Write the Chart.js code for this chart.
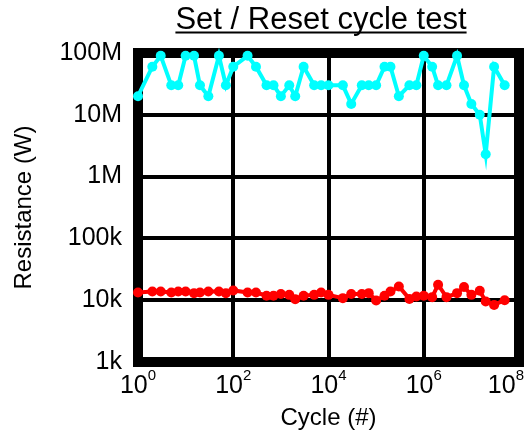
<!DOCTYPE html>
<html>
<head>
<meta charset="utf-8">
<title>Set / Reset cycle test</title>
<script src="https://cdn.jsdelivr.net/npm/chart.js@4.4.0/dist/chart.umd.min.js"></script>
<style>
  body { margin: 0; background: #fff; }
  canvas { display: block; }
</style>
</head>
<body>
<canvas id="chart" width="526" height="435"></canvas>
<script>
const FONT = '"Liberation Sans", Arial, sans-serif';
const chartTitle = "Set / Reset cycle test";

// cycle counts where both states were read back
const cycles = [1, 2, 3, 5, 7, 10, 15, 20, 30, 50, 70, 100, 200, 300, 500, 700,
  1e3, 1.5e3, 2e3, 3e3, 5e3, 7e3, 1e4, 2e4, 3e4, 5e4, 7e4,
  1e5, 1.5e5, 2e5, 3e5, 5e5, 7e5, 1e6, 1.5e6, 2e6, 3e6, 5e6, 7e6,
  1e7, 1.5e7, 2e7, 3e7, 5e7];

// reset (high resistance) state, ohms
const highRes = [2e7, 6e7, 9e7, 3e7, 3e7, 9e7, 9e7, 3e7, 2e7, 9e7, 3e7, 6e7, 9e7, 6e7, 3e7, 3e7,
  2e7, 3e7, 2e7, 6e7, 3e7, 3e7, 3e7, 3e7, 1.5e7, 3e7, 3e7,
  3e7, 6e7, 6e7, 2e7, 3e7, 3e7, 9e7, 6e7, 3e7, 3e7, 9e7, 3e7,
  1.5e7, 1e7, 2.3e6, 6e7, 3e7];

// set (low resistance) state, ohms
const lowRes = [13300, 13800, 13800, 13300, 13800, 13800, 13000, 13300, 13800, 13800, 13000, 14400, 13300, 13300, 11800, 11800,
  12600, 12200, 10400, 11800, 12200, 13300, 12200, 10800, 12600, 12600, 13000,
  9900, 11800, 13800, 16700, 10500, 11500, 11800, 11200, 17800, 11200, 13000, 16300,
  12200, 14200, 9500, 8400, 10000];

const yTicks = [1e3, 1e4, 1e5, 1e6, 1e7, 1e8];
const yTickLabels = ["1k", "10k", "100k", "1M", "10M", "100M"];
const xTicks = [1, 1e2, 1e4, 1e6, 1e8];
const xTickExps = ["0", "2", "4", "6", "8"];

// thick frame, underlined title and 10^n labels
const framePlugin = {
  id: "frame",
  beforeDatasetsDraw(chart) {
    const { ctx, chartArea: a } = chart;
    ctx.save();
    ctx.strokeStyle = "#000";
    ctx.lineWidth = 10;
    ctx.strokeRect(a.left, a.top, a.right - a.left, a.bottom - a.top);
    ctx.restore();
  },
  afterDraw(chart) {
    const { ctx } = chart;
    const xs = chart.scales.x;
    ctx.save();
    ctx.fillStyle = "#000";
    ctx.textBaseline = "alphabetic";
    ctx.textAlign = "left";
    xTicks.forEach((v, i) => {
      ctx.font = `25px ${FONT}`;
      const baseW = ctx.measureText("10").width;
      ctx.font = `15px ${FONT}`;
      const supW = ctx.measureText(xTickExps[i]).width;
      const w = baseW + supW;
      let left = xs.getPixelForValue(v) - w / 2;
      left = Math.min(left, chart.width - w - 2);
      ctx.font = `25px ${FONT}`;
      ctx.fillText("10", left, 393);
      ctx.font = `15px ${FONT}`;
      ctx.fillText(xTickExps[i], left + baseW, 380);
    });

    ctx.font = `31px ${FONT}`;
    ctx.textAlign = "center";
    ctx.fillText(chartTitle, 321, 29);
    const tw = ctx.measureText(chartTitle).width;
    ctx.fillRect(321 - tw / 2, 31.5, tw, 2);
    ctx.restore();
  }
};

new Chart(document.getElementById("chart"), {
  type: "line",
  data: {
    datasets: [
      {
        label: "Reset",
        data: cycles.map((c, i) => ({ x: c, y: highRes[i] })),
        borderColor: "#00ffff",
        backgroundColor: "#00ffff",
        borderWidth: 4,
        pointRadius: 5,
        pointBorderWidth: 0,
        pointBackgroundColor: "#00ffff",
        clip: false,
      },
      {
        label: "Set",
        data: cycles.map((c, i) => ({ x: c, y: lowRes[i] })),
        borderColor: "#ff0000",
        backgroundColor: "#ff0000",
        borderWidth: 4,
        pointRadius: 5,
        pointBorderWidth: 0,
        pointBackgroundColor: "#ff0000",
        clip: false,
      },
    ],
  },
  options: {
    responsive: false,
    animation: false,
    layout: { padding: { top: 53, right: 7, left: 0, bottom: 0 } },
    plugins: {
      legend: { display: false },
      title: { display: false },
      tooltip: { enabled: false },
    },
    scales: {
      x: {
        type: "logarithmic",
        min: 1,
        max: 1e8,
        afterBuildTicks: (scale) => { scale.ticks = xTicks.map((v) => ({ value: v })); },
        afterFit: (scale) => { scale.height = 73; },
        ticks: { display: false },
        grid: { color: "#000", lineWidth: 4, drawTicks: false },
        border: { display: false },
        title: {
          display: true,
          text: "Cycle (#)",
          color: "#000",
          font: { family: FONT, size: 24 },
          padding: { top: 0, bottom: 2 },
        },
      },
      y: {
        type: "logarithmic",
        min: 1e3,
        max: 1e8,
        afterBuildTicks: (scale) => { scale.ticks = yTicks.map((v) => ({ value: v })); },
        afterFit: (scale) => { scale.width = 138; },
        ticks: {
          color: "#000",
          padding: 16,
          font: { family: FONT, size: 25 },
          callback: (v) => yTickLabels[yTicks.indexOf(v)] ?? "",
        },
        grid: { color: "#000", lineWidth: 4, drawTicks: false },
        border: { display: false },
        title: {
          display: true,
          text: "Resistance (W)",
          color: "#000",
          font: { family: FONT, size: 24 },
          padding: { top: 10, bottom: 0 },
        },
      },
    },
  },
  plugins: [framePlugin],
});
</script>
</body>
</html>
